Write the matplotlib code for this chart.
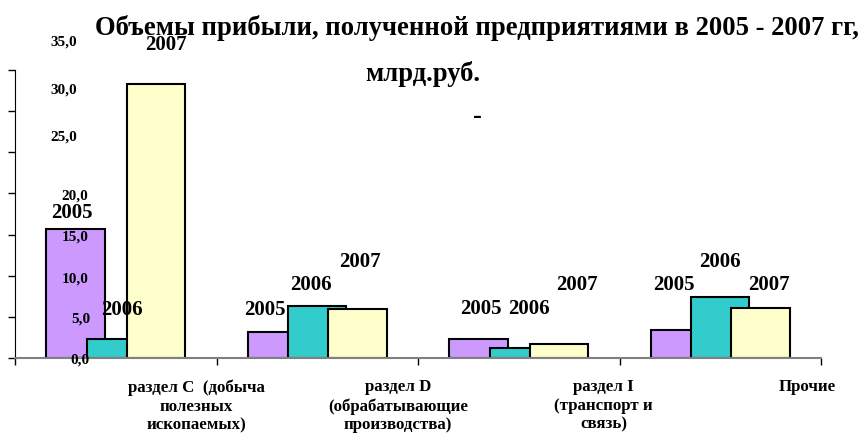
import numpy as np
import matplotlib.pyplot as plt

plt.rcParams['font.family'] = ['Liberation Serif', 'DejaVu Serif']
plt.rcParams['font.weight'] = 'bold'

# Данные (млрд. руб.)
categories = ["раздел С  (добыча\nполезных\nископаемых)",
              "раздел D\n(обрабатывающие\nпроизводства)",
              "раздел I\n(транспорт и\nсвязь)",
              "Прочие"]
years = ["2005", "2006", "2007"]
profit_2005 = [15.7, 3.2, 2.3, 3.4]
profit_2006 = [2.3, 6.3, 1.2, 7.4]
profit_2007 = [33.3, 6.0, 1.7, 6.1]
colors = ['#CC99FF', '#33CCCC', '#FFFFCC']

# подписи лет стоят вразнобой, как в оригинале (x в долях категории, y в млрд.)
year_label_x = [[-0.22, 0.03, 0.25], [0.74, 0.97, 1.21],
                [1.81, 2.05, 2.29], [2.77, 3.00, 3.24]]
year_label_y = [[17.6, 5.8, 38.0], [5.8, 8.9, 11.7],
                [6.0, 6.0, 8.9], [8.9, 11.7, 8.9]]

# подписи оси Y тоже смещены
ytick_vals = [35, 30, 25, 20, 15, 10, 5, 0]
ytick_pos_y = [38.4, 32.6, 26.9, 19.7, 14.7, 9.6, 4.7, -0.2]
ytick_pos_x = [-0.19, -0.19, -0.19, -0.135, -0.135, -0.135, -0.128, -0.128]

fig = plt.figure(figsize=(8.63, 4.34), dpi=100)
ax = fig.add_axes([15/863, 1 - 358/434, (821 - 15)/863, (358 - 70)/434])

x = np.arange(len(categories))
series = [profit_2005, profit_2006, profit_2007]
offsets = [-0.2, 0.0, 0.2]
for vals, off, c in zip(series, offsets, colors):
    ax.bar(x + off, vals, width=0.29, color=c, edgecolor='black', linewidth=1.5, zorder=2)

for i in range(len(categories)):
    for j, yr in enumerate(years):
        ax.text(year_label_x[i][j], year_label_y[i][j], yr, ha='center', va='center',
                fontsize=15, fontweight='bold', clip_on=False)

for v, px, py in zip(ytick_vals, ytick_pos_x, ytick_pos_y):
    ax.text(px, py, f"{v:.1f}".replace('.', ','), ha='right', va='center',
            fontsize=11, fontweight='bold', clip_on=False)

label_x = [0.40, 1.40, 2.42, 3.43]
for lx, name in zip(label_x, categories):
    ax.text(lx, -2.6, name, ha='center', va='top', fontsize=12.2, fontweight='bold',
            linespacing=1.22, clip_on=False)

ax.set_xlim(-0.5, 3.5)
ax.set_ylim(0, 35)
ax.set_xticks(np.arange(-0.5, 4.0, 1.0))
ax.set_xticklabels([])
ax.set_yticks(np.arange(0, 36, 5))
ax.set_yticklabels([])
ax.tick_params(axis='both', direction='out', length=5, width=1)
ax.spines['top'].set_visible(False)
ax.spines['right'].set_visible(False)
ax.spines['bottom'].set_color('#808080')
ax.spines['bottom'].set_linewidth(1.5)

fig.text(477/863, 1 - 28/434, "Объемы прибыли, полученной предприятиями в 2005 - 2007 гг,",
         ha='center', va='center', fontsize=19.2, fontweight='bold')
fig.text(423/863, 1 - 74/434, "млрд.руб.", ha='center', va='center', fontsize=19.2, fontweight='bold')
fig.text(477/863, 1 - 116/434, "-", ha='center', va='center', fontsize=19.2, fontweight='bold')

fig.savefig('out.png', dpi=100)
